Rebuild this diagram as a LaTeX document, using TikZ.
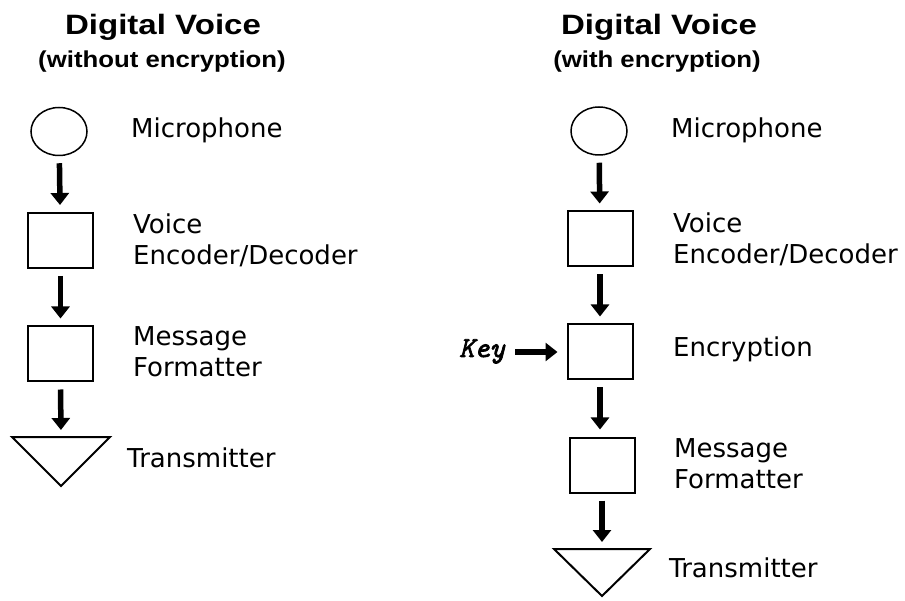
\documentclass[tikz,border=0pt]{standalone}
\usepackage{fontspec}
\usetikzlibrary{arrows.meta,shapes.geometric}
\newfontfamily\titlefont[FakeStretch=1.18]{Liberation Sans}
\newfontfamily\subfont[FakeStretch=1.12]{Liberation Sans}
\newfontfamily\labfont{DejaVu Sans}
\newfontfamily\keyfont[FakeBold=2.5]{lmmono10-italic.otf}
\tikzset{
  tit/.style={font=\titlefont\bfseries\fontsize{28}{32}\selectfont, inner sep=0pt, anchor=base},
  sub/.style={font=\subfont\bfseries\fontsize{23}{27}\selectfont, inner sep=0pt, anchor=base},
  lab/.style={font=\labfont\fontsize{26}{31}\selectfont, inner sep=0pt, anchor=base west, align=left},
  keylab/.style={font=\keyfont\fontsize{29}{32}\selectfont, inner sep=0pt, anchor=base west},
  mic/.style={ellipse, draw, line width=1.5pt, minimum width=56pt, minimum height=48pt, inner sep=0pt},
  blk/.style={rectangle, draw, line width=2pt, minimum width=65pt, minimum height=55pt, inner sep=0pt},
  tri/.style={draw, line width=2pt, line join=miter},
  flow/.style={line width=5.5pt, -{Triangle[width=18pt,length=12pt]}, shorten >=7pt, shorten <=7pt}
}
\begin{document}
\begin{tikzpicture}[x=1pt,y=-1pt]
\fill[white] (0,0) rectangle (905,601);
\useasboundingbox (0,0) rectangle (905,601);

% ---------- left: without encryption ----------
\node[tit] (t1) at (163,35) {Digital Voice};
\node[sub] (s1) at (162,68) {(without encryption)};

\node[mic] (mic1) at (59,131.5) {};
\node[blk] (vo1) at (60.5,240.5) {};
\node[blk] (mf1) at (60.5,354) {};
\coordinate (tr1) at (61,437);
\draw[tri] (12,437) -- (110,437) -- (61,486) -- cycle;

\node[lab] (l1) at (131,138) {Microphone};
\node[lab] (l2) at (133,265) {Voice\\Encoder/Decoder};
\node[lab] (l3) at (133,377) {Message\\Formatter};
\node[lab] (l4) at (127,467) {Transmitter};

\draw[flow] (mic1) -- (vo1);
\draw[flow] (vo1) -- (mf1);
\draw[flow] (mf1.south) -- (tr1);

% ---------- right: with encryption ----------
\node[tit] (t2) at (659,35) {Digital Voice};
\node[sub] (s2) at (657,68) {(with encryption)};

\node[mic] (mic2) at (599,131) {};
\node[blk] (vo2) at (600,239) {};
\node[blk] (en2) at (600,352) {};
\node[blk] (mf2) at (602,465) {};
\coordinate (tr2) at (602,549);
\draw[tri] (554,549) -- (650,549) -- (602,596) -- cycle;

\node[lab] (r1) at (671,138) {Microphone};
\node[lab] (r2) at (673,264) {Voice\\Encoder/Decoder};
\node[lab] (r3) at (673,357) {Encryption};
\node[lab] (r4) at (674,488) {Message\\Formatter};
\node[lab] (r5) at (669,577) {Transmitter};
\node[keylab] (key) at (459,357) {Key};

\draw[flow] (mic2) -- (vo2);
\draw[flow] (vo2) -- (en2);
\draw[flow] (en2.south) -- (en2.south |- mf2.north);
\draw[flow] (mf2.south) -- (tr2);
\draw[flow, shorten <=10pt, shorten >=9pt] (key.east |- en2.west) -- (en2.west);
\end{tikzpicture}
\end{document}
